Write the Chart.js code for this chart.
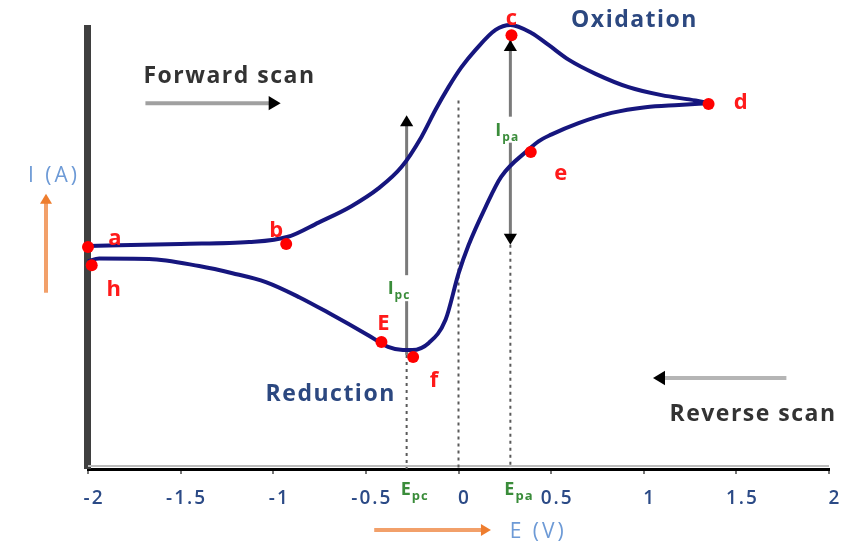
<!DOCTYPE html>
<html>
<head>
<meta charset="utf-8">
<script src="https://cdn.jsdelivr.net/npm/chart.js@4.4.0/dist/chart.umd.min.js"></script>
<style>
  html, body { margin: 0; padding: 0; background: #fff; }
</style>
</head>
<body>
<canvas id="cv-graph" width="853" height="545"></canvas>
<script>
// forward scan a -> b -> c -> d (E in V, I in arbitrary units)
const forwardE = [-2.0, -1.5, -1.13, -0.92, -0.756, -0.578, -0.432, -0.308, -0.2, -0.124, -0.054, 0.016, 0.092, 0.2, 0.28, 0.394, 0.486, 0.594, 0.74, 0.918, 1.096, 1.28, 1.35]
const forwardI = [5.02, 5.07, 5.11, 5.23, 5.55, 5.92, 6.32, 6.80, 7.48, 8.09, 8.60, 9.05, 9.44, 9.89, 10.0, 9.82, 9.55, 9.22, 8.90, 8.60, 8.42, 8.30, 8.24]

// reverse scan d -> e -> f -> h, listed with E ascending
const reverseE = [-2.0, -1.94, -1.67, -1.40, -1.22, -1.04, -0.86, -0.69, -0.49, -0.38, -0.30, -0.25, -0.16, -0.07, 0, 0.054, 0.146, 0.23, 0.38, 0.432, 0.5, 0.648, 0.826, 1.01, 1.19, 1.35]
const reverseI = [4.68, 4.74, 4.73, 4.57, 4.41, 4.21, 3.87, 3.49, 3.02, 2.75, 2.68, 2.68, 2.84, 3.36, 4.40, 5.04, 5.90, 6.58, 7.20, 7.38, 7.53, 7.79, 8.02, 8.15, 8.20, 8.24]

// marked points
const pointNames = ['a', 'b', 'c', 'd', 'e', 'E', 'f', 'h']
const pointE = [-2.0, -0.93, 0.286, 1.35, 0.39, -0.416, -0.245, -1.98]
const pointI = [5.0, 5.07, 9.77, 8.22, 7.14, 2.86, 2.52, 4.59]

// peak potentials and current arrow ends
const peakNames = ['pc', 'pa']
const peakE = [-0.28, 0.28]
const peakTopI = [7.97, 9.66]
const peakBottomI = [2.57, 5.05]

const xTickLabels = ['-2', '-1.5', '-1', '-0.5', '0', '0.5', '1', '1.5', '2']

const lineColor = '#16167e'
const green = '#3a8c3a'

function arrowHead(ctx, x, y, ang, size) {
  ctx.beginPath()
  ctx.moveTo(x, y)
  ctx.lineTo(x - size * Math.cos(ang) + size * 0.6 * Math.sin(ang), y - size * Math.sin(ang) - size * 0.6 * Math.cos(ang))
  ctx.lineTo(x - size * Math.cos(ang) - size * 0.6 * Math.sin(ang), y - size * Math.sin(ang) + size * 0.6 * Math.cos(ang))
  ctx.closePath()
  ctx.fill()
}

function arrow(ctx, x1, y1, x2, y2, color, width, headColor, size, both) {
  const ang = Math.atan2(y2 - y1, x2 - x1)
  ctx.strokeStyle = color
  ctx.lineWidth = width
  ctx.beginPath()
  ctx.moveTo(x1, y1)
  ctx.lineTo(x2 - Math.cos(ang) * size * 0.8, y2 - Math.sin(ang) * size * 0.8)
  ctx.stroke()
  ctx.fillStyle = headColor
  arrowHead(ctx, x2, y2, ang, size)
  if (both) arrowHead(ctx, x1, y1, ang + Math.PI, size)
}

function subText(ctx, main, sub, x, y, color, big, small) {
  ctx.fillStyle = color
  ctx.textAlign = 'left'
  ctx.textBaseline = 'alphabetic'
  ctx.letterSpacing = '1px'
  ctx.font = 'bold ' + big + 'px "Open Sans"'
  ctx.fillText(main, x, y)
  const w = ctx.measureText(main).width
  ctx.font = 'bold ' + small + 'px "Open Sans"'
  ctx.fillText(sub, x + w, y + 5)
}

const extras = {
  id: 'extras',
  beforeDraw(chart) {
    chart.ctx.letterSpacing = '2px'
  },
  beforeDatasetsDraw(chart) {
    const { ctx, chartArea: ca, scales: { x, y } } = chart
    ctx.save()
    // left axis
    ctx.fillStyle = '#3f3f3f'
    ctx.fillRect(x.getPixelForValue(-2) - 4, ca.top, 7, ca.bottom - ca.top)
    ctx.fillStyle = '#bbb'
    ctx.fillRect(ca.left, ca.bottom - 4, ca.right - ca.left, 2)

    // dotted guides
    ctx.setLineDash([3, 4])
    ctx.strokeStyle = '#5a5a5a'
    ctx.lineWidth = 2
    const guides = [[0, 8.3], [peakE[0], peakBottomI[0]], [peakE[1], peakBottomI[1]]]
    guides.forEach(([e, top]) => {
      const px = x.getPixelForValue(e)
      ctx.beginPath()
      ctx.moveTo(px, y.getPixelForValue(top))
      ctx.lineTo(px, ca.bottom)
      ctx.stroke()
    })
    ctx.setLineDash([])

    // peak current arrows
    arrow(ctx, x.getPixelForValue(peakE[0]), y.getPixelForValue(peakBottomI[0]),
      x.getPixelForValue(peakE[0]), y.getPixelForValue(peakTopI[0]), '#7a7a7a', 3, '#000', 11, false)
    arrow(ctx, x.getPixelForValue(peakE[1]), y.getPixelForValue(peakTopI[1]),
      x.getPixelForValue(peakE[1]), y.getPixelForValue(peakBottomI[1]), '#7a7a7a', 3, '#000', 11, true)

    // scan arrows
    arrow(ctx, x.getPixelForValue(-1.69), y.getPixelForValue(8.24),
      x.getPixelForValue(-0.96), y.getPixelForValue(8.24), '#a0a0a0', 4, '#000', 12, false)
    arrow(ctx, x.getPixelForValue(1.77), y.getPixelForValue(2.05),
      x.getPixelForValue(1.05), y.getPixelForValue(2.05), '#b5b5b5', 4, '#000', 12, false)

    // peak current labels, white behind
    const ipLabelI = [4.05, 7.62]
    const ipShift = [-19, -15]
    peakE.forEach((e, i) => {
      const px = x.getPixelForValue(e)
      const py = y.getPixelForValue(ipLabelI[i])
      ctx.fillStyle = '#fff'
      ctx.fillRect(px - 12, py - 14, 30, 26)
      subText(ctx, 'I', peakNames[i], px + ipShift[i], py + 5, green, 18, 12)
    })
    ctx.restore()
  },
  afterDraw(chart) {
    const { ctx, chartArea: ca, scales: { x, y } } = chart
    ctx.save()
    // point letters
    const offs = [[27, -8], [-10, -13], [0, -16], [32, -1], [30, 22], [2, -18], [21, 24], [22, 25]]
    ctx.letterSpacing = '0px'
    ctx.font = 'bold 22px "Open Sans"'
    ctx.fillStyle = '#ff1a1a'
    ctx.textAlign = 'center'
    ctx.textBaseline = 'middle'
    pointNames.forEach((n, i) => {
      ctx.fillText(n, x.getPixelForValue(pointE[i]) + offs[i][0], y.getPixelForValue(pointI[i]) + offs[i][1])
    })

    // annotations
    ctx.letterSpacing = '1.5px'
    ctx.font = 'bold 23px "Open Sans"'
    ctx.fillStyle = '#333'
    ctx.fillText('Forward scan', x.getPixelForValue(-1.236), y.getPixelForValue(8.85))
    ctx.fillText('Reverse scan', x.getPixelForValue(1.59), y.getPixelForValue(1.22))
    ctx.fillStyle = '#2c4880'
    ctx.fillText('Oxidation', x.getPixelForValue(0.95), y.getPixelForValue(10.11))
    ctx.fillText('Reduction', x.getPixelForValue(-0.69), y.getPixelForValue(1.67))

    // peak potential labels
    peakE.forEach((e, i) => {
      subText(ctx, 'E', peakNames[i], x.getPixelForValue(e) - 6, ca.bottom + 26, green, 18, 13)
    })

    // axis titles with orange arrows
    ctx.letterSpacing = '3px'
    ctx.font = '21px "Open Sans"'
    ctx.fillStyle = '#6d9ad6'
    ctx.textAlign = 'center'
    ctx.textBaseline = 'middle'
    ctx.fillText('I (A)', ca.left - 34, y.getPixelForValue(6.6))
    ctx.fillText('E (V)', x.getPixelForValue(0.43), ca.bottom + 63)
    arrow(ctx, ca.left - 42, y.getPixelForValue(3.97), ca.left - 42, y.getPixelForValue(6.2), '#f2a06a', 4, '#ee7d2e', 10, false)
    arrow(ctx, x.getPixelForValue(-0.455), ca.bottom + 61, x.getPixelForValue(0.175), ca.bottom + 61, '#f2a06a', 4, '#ee7d2e', 10, false)
    ctx.restore()
  }
}

const ctx = document.getElementById('cv-graph').getContext('2d')

const cvGraph = new Chart(ctx, {
  type: 'line',
  data: {
    datasets: [{
      label: 'points',
      type: 'scatter',
      data: pointE.map((e, i) => ({ x: e, y: pointI[i] })),
      backgroundColor: '#ff0000',
      borderWidth: 0,
      pointRadius: 6
    }, {
      label: 'forward',
      data: forwardE.map((e, i) => ({ x: e, y: forwardI[i] })),
      borderColor: lineColor,
      borderWidth: 4,
      pointRadius: 0,
      cubicInterpolationMode: 'monotone'
    }, {
      label: 'reverse',
      data: reverseE.map((e, i) => ({ x: e, y: reverseI[i] })),
      borderColor: lineColor,
      borderWidth: 4,
      pointRadius: 0,
      cubicInterpolationMode: 'monotone'
    }]
  },
  options: {
    responsive: false,
    animation: false,
    clip: false,
    layout: { padding: { left: 88, right: 24, top: 25, bottom: 0 } },
    plugins: { legend: { display: false }, tooltip: { enabled: false } },
    scales: {
      x: {
        type: 'linear',
        min: -2,
        max: 2,
        afterFit: s => { s.height = 76 },
        grid: { drawOnChartArea: false, tickLength: 5, color: '#777', lineWidth: 2 },
        border: { color: '#000', width: 3 },
        ticks: {
          stepSize: 0.5,
          padding: 13,
          labelOffset: 6,
          color: '#2b4a86',
          font: { family: 'Open Sans', size: 19, weight: '600' },
          callback: (v, i) => xTickLabels[i]
        }
      },
      y: {
        display: false,
        min: 0,
        max: 10
      }
    }
  },
  plugins: [extras]
})
</script>
</body>
</html>
